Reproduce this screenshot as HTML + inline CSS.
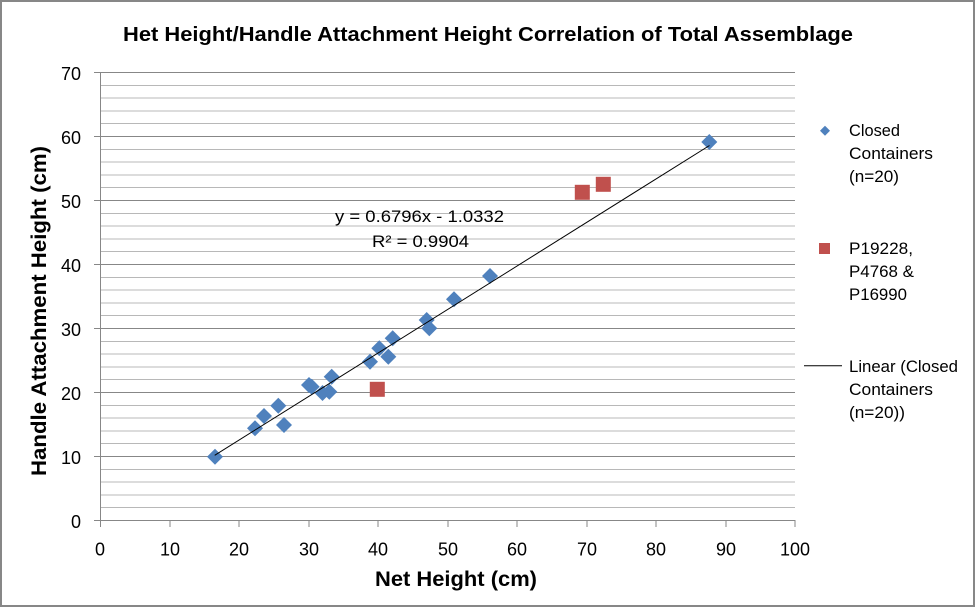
<!DOCTYPE html>
<html>
<head>
<meta charset="utf-8">
<style>
html,body{margin:0;padding:0;background:#fff;}
svg{display:block;}
text{font-family:"Liberation Sans",Arial,sans-serif;fill:#000;}
</style>
</head>
<body>
<svg width="977" height="609" viewBox="0 0 977 609" xmlns="http://www.w3.org/2000/svg">
<rect x="0" y="0" width="977" height="609" fill="#fff"/>
<rect x="1" y="1" width="973" height="605" fill="none" stroke="#878787" stroke-width="2"/>

<!-- title -->
<text x="123" y="41" font-size="20" font-weight="bold" textLength="730" lengthAdjust="spacingAndGlyphs">Het Height/Handle Attachment Height Correlation of Total Assemblage</text>

<!-- minor gridlines -->
<g stroke="#b8b8b8" stroke-width="1" shape-rendering="crispEdges">
<line x1="100" x2="795" y1="507.7" y2="507.7"/>
<line x1="100" x2="795" y1="494.9" y2="494.9"/>
<line x1="100" x2="795" y1="482.1" y2="482.1"/>
<line x1="100" x2="795" y1="469.3" y2="469.3"/>
<line x1="100" x2="795" y1="443.7" y2="443.7"/>
<line x1="100" x2="795" y1="430.9" y2="430.9"/>
<line x1="100" x2="795" y1="418.1" y2="418.1"/>
<line x1="100" x2="795" y1="405.3" y2="405.3"/>
<line x1="100" x2="795" y1="379.7" y2="379.7"/>
<line x1="100" x2="795" y1="366.9" y2="366.9"/>
<line x1="100" x2="795" y1="354.1" y2="354.1"/>
<line x1="100" x2="795" y1="341.3" y2="341.3"/>
<line x1="100" x2="795" y1="315.7" y2="315.7"/>
<line x1="100" x2="795" y1="302.9" y2="302.9"/>
<line x1="100" x2="795" y1="290.1" y2="290.1"/>
<line x1="100" x2="795" y1="277.3" y2="277.3"/>
<line x1="100" x2="795" y1="251.7" y2="251.7"/>
<line x1="100" x2="795" y1="238.9" y2="238.9"/>
<line x1="100" x2="795" y1="226.1" y2="226.1"/>
<line x1="100" x2="795" y1="213.3" y2="213.3"/>
<line x1="100" x2="795" y1="187.7" y2="187.7"/>
<line x1="100" x2="795" y1="174.9" y2="174.9"/>
<line x1="100" x2="795" y1="162.1" y2="162.1"/>
<line x1="100" x2="795" y1="149.3" y2="149.3"/>
<line x1="100" x2="795" y1="123.7" y2="123.7"/>
<line x1="100" x2="795" y1="110.9" y2="110.9"/>
<line x1="100" x2="795" y1="98.1" y2="98.1"/>
<line x1="100" x2="795" y1="85.3" y2="85.3"/>
</g>
<!-- major gridlines -->
<g stroke="#878787" stroke-width="1" shape-rendering="crispEdges">
<line x1="94" x2="795" y1="456.5" y2="456.5"/>
<line x1="94" x2="795" y1="392.5" y2="392.5"/>
<line x1="94" x2="795" y1="328.5" y2="328.5"/>
<line x1="94" x2="795" y1="264.5" y2="264.5"/>
<line x1="94" x2="795" y1="200.5" y2="200.5"/>
<line x1="94" x2="795" y1="136.5" y2="136.5"/>
<line x1="94" x2="795" y1="72.5" y2="72.5"/>
<!-- axes -->
<line x1="94" x2="795" y1="520.5" y2="520.5"/>
<line x1="100.5" x2="100.5" y1="72" y2="527"/>
<!-- x ticks -->
<line x1="170" x2="170" y1="520" y2="527"/>
<line x1="239" x2="239" y1="520" y2="527"/>
<line x1="309" x2="309" y1="520" y2="527"/>
<line x1="378" x2="378" y1="520" y2="527"/>
<line x1="448" x2="448" y1="520" y2="527"/>
<line x1="517" x2="517" y1="520" y2="527"/>
<line x1="587" x2="587" y1="520" y2="527"/>
<line x1="656" x2="656" y1="520" y2="527"/>
<line x1="726" x2="726" y1="520" y2="527"/>
<line x1="795" x2="795" y1="520" y2="527"/>
</g>

<!-- y tick labels -->
<g font-size="18" text-anchor="end" fill="#000">
<text x="81" y="80">70</text>
<text x="81" y="144">60</text>
<text x="81" y="208">50</text>
<text x="81" y="272">40</text>
<text x="81" y="336">30</text>
<text x="81" y="400">20</text>
<text x="81" y="464">10</text>
<text x="81" y="528">0</text>
</g>
<!-- x tick labels -->
<g font-size="18" text-anchor="middle">
<text x="100" y="555.5">0</text>
<text x="170" y="555.5">10</text>
<text x="239" y="555.5">20</text>
<text x="309" y="555.5">30</text>
<text x="378" y="555.5">40</text>
<text x="448" y="555.5">50</text>
<text x="517" y="555.5">60</text>
<text x="587" y="555.5">70</text>
<text x="656" y="555.5">80</text>
<text x="726" y="555.5">90</text>
<text x="795" y="555.5">100</text>
</g>

<!-- axis titles -->
<text x="375" y="586" font-size="21" font-weight="bold" textLength="162" lengthAdjust="spacingAndGlyphs">Net Height (cm)</text>
<text transform="translate(46,476) rotate(-90)" x="0" y="0" font-size="21" font-weight="bold" textLength="330" lengthAdjust="spacingAndGlyphs">Handle Attachment Height (cm)</text>

<!-- blue diamonds -->
<g fill="#4F81BD">
<path d="M215,448.7 l8,8 l-8,8 l-8,-8z"/>
<path d="M255,420.3 l8,8 l-8,8 l-8,-8z"/>
<path d="M264,408 l8,8 l-8,8 l-8,-8z"/>
<path d="M278.3,397.7 l8,8 l-8,8 l-8,-8z"/>
<path d="M284,417 l8,8 l-8,8 l-8,-8z"/>
<path d="M309,377 l8,8 l-8,8 l-8,-8z"/>
<path d="M311.7,378.7 l8,8 l-8,8 l-8,-8z"/>
<path d="M322.5,385 l8,8 l-8,8 l-8,-8z"/>
<path d="M329.3,383.7 l8,8 l-8,8 l-8,-8z"/>
<path d="M331.7,368.7 l8,8 l-8,8 l-8,-8z"/>
<path d="M370,353.7 l8,8 l-8,8 l-8,-8z"/>
<path d="M379.3,340.3 l8,8 l-8,8 l-8,-8z"/>
<path d="M388.3,348.7 l8,8 l-8,8 l-8,-8z"/>
<path d="M392.7,330.3 l8,8 l-8,8 l-8,-8z"/>
<path d="M426.7,312 l8,8 l-8,8 l-8,-8z"/>
<path d="M429.3,320.3 l8,8 l-8,8 l-8,-8z"/>
<path d="M454,291.3 l8,8 l-8,8 l-8,-8z"/>
<path d="M490,268 l8,8 l-8,8 l-8,-8z"/>
<path d="M709.3,134 l8,8 l-8,8 l-8,-8z"/>
</g>
<!-- red squares -->
<g fill="#C0504D">
<rect x="369.8" y="381.8" width="15" height="15"/>
<rect x="574.8" y="184.8" width="15" height="15"/>
<rect x="595.8" y="176.8" width="15" height="15"/>
</g>

<!-- trendline -->
<line x1="214.7" y1="455.3" x2="709.5" y2="145.5" stroke="#000" stroke-width="1"/>

<!-- equation -->
<text x="335" y="222" font-size="17" textLength="169" lengthAdjust="spacingAndGlyphs">y = 0.6796x - 1.0332</text>
<text x="372" y="247" font-size="17" textLength="97" lengthAdjust="spacingAndGlyphs">R² = 0.9904</text>

<!-- legend -->
<path d="M825,125.7 l5,5 l-5,5 l-5,-5z" fill="#4F81BD"/>
<g font-size="17" lengthAdjust="spacingAndGlyphs">
<text x="849" y="136" textLength="51" lengthAdjust="spacingAndGlyphs">Closed</text>
<text x="849" y="159" textLength="84" lengthAdjust="spacingAndGlyphs">Containers</text>
<text x="849" y="182" textLength="50" lengthAdjust="spacingAndGlyphs">(n=20)</text>
</g>
<rect x="819" y="243" width="11" height="11" fill="#C0504D"/>
<g font-size="17">
<text x="849" y="254" textLength="64" lengthAdjust="spacingAndGlyphs">P19228,</text>
<text x="849" y="277" textLength="65" lengthAdjust="spacingAndGlyphs">P4768 &amp;</text>
<text x="849" y="300" textLength="58" lengthAdjust="spacingAndGlyphs">P16990</text>
</g>
<line x1="804" y1="365.7" x2="842" y2="365.7" stroke="#000" stroke-width="1"/>
<g font-size="17">
<text x="849" y="372" textLength="109" lengthAdjust="spacingAndGlyphs">Linear (Closed</text>
<text x="849" y="395" textLength="84" lengthAdjust="spacingAndGlyphs">Containers</text>
<text x="849" y="418" textLength="56" lengthAdjust="spacingAndGlyphs">(n=20))</text>
</g>
</svg>
</body>
</html>
